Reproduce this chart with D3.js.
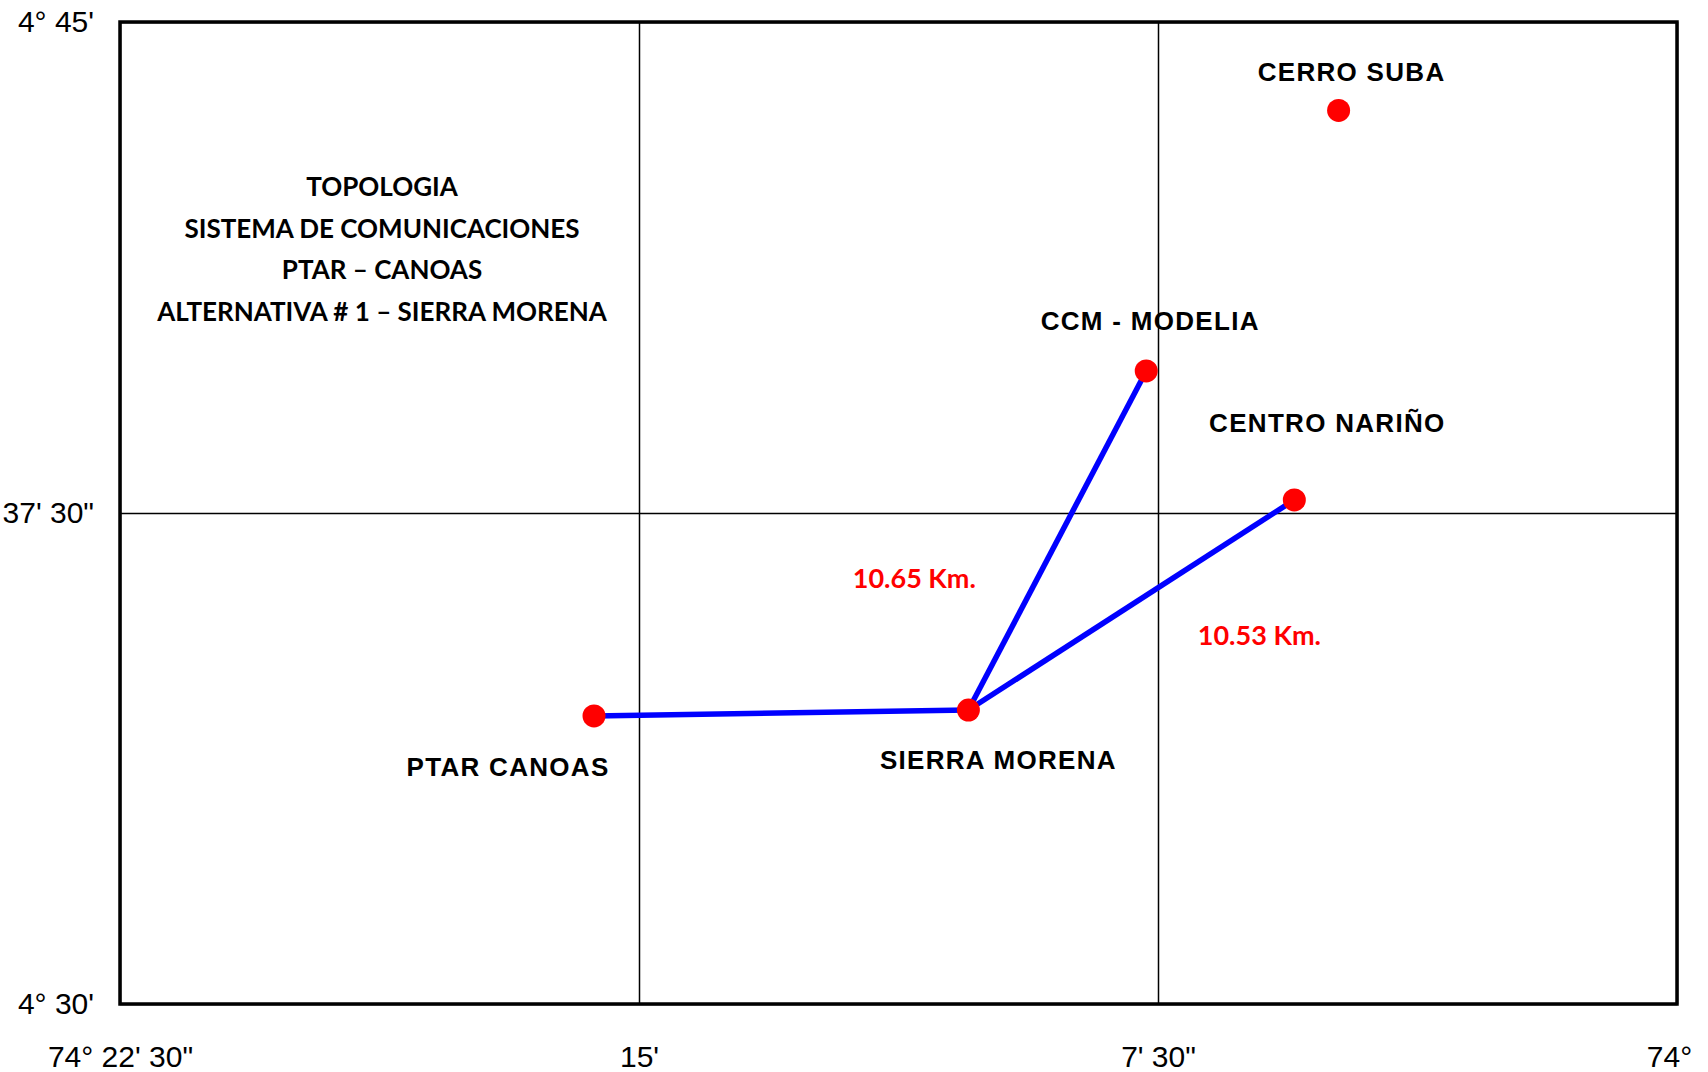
<!DOCTYPE html>
<html lang="es">
<head>
<meta charset="UTF-8">
<title>Topologia</title>
<script src="https://d3js.org/d3.v7.min.js"></script>
<style>
  body { margin: 0; background: #fff; }
  .tick text { font-family: "Liberation Sans Narrow", "Arial Narrow", "Liberation Sans", sans-serif; font-size: 30px; fill: #000; }
</style>
</head>
<body>
<script>
// longitud: minutos al oeste de 74°, latitud: minutos al norte de 4°
var lonTicks = [22.5, 15, 7.5, 0];
var lonLabels = ['74\u00b0  22\' 30"', "15'", '7\' 30"', '74\u00b0'];
var latTicks = [30, 37.5, 45];
var latLabels = ["4\u00b0  30'", '37\' 30"', "4\u00b0  45'"];

var sites = ['PTAR CANOAS', 'SIERRA MORENA', 'CCM - MODELIA', 'CENTRO NARI\u00d1O', 'CERRO SUBA'];
var siteLon = [15.65, 10.24, 7.67, 5.53, 4.89];
var siteLat = [34.40, 34.49, 39.67, 37.70, 43.65];

var links = [[0, 1], [1, 2], [1, 3]];
var linkKm = ['', '10.65 Km.', '10.53 Km.'];

var titleLines = ['TOPOLOGIA', 'SISTEMA DE COMUNICACIONES', 'PTAR \u2013 CANOAS', 'ALTERNATIVA # 1 \u2013 SIERRA MORENA'];

// desplazamientos de las etiquetas (px)
var labelOff = [[-86, 51], [30, 50], [4, -50], [33, -77], [13, -38]];
var kmOff = [[0, 0], [-143, 37], [128, 30]];

var W = 1708, H = 1072;
var m = { left: 120, top: 22, right: 31, bottom: 68 };
var w = W - m.left - m.right, h = H - m.top - m.bottom;

var svg = d3.select('body').append('svg')
    .attr('width', W)
    .attr('height', H);

var g = svg.append('g').attr('transform', 'translate(' + m.left + ',' + m.top + ')');

var x = d3.scaleLinear().domain([22.5, 0]).range([0, w]);
var y = d3.scaleLinear().domain([30, 45]).range([h, 0]);

// ejes con rejilla
var xAxis = g.append('g')
    .attr('transform', 'translate(0,' + h + ')')
    .call(d3.axisBottom(x).tickValues(lonTicks).tickSize(-h).tickPadding(42)
        .tickFormat(function(d, i) { return lonLabels[i]; }));
xAxis.select('.domain').remove();
xAxis.selectAll('line').attr('stroke', '#000').attr('stroke-width', 1.5);
xAxis.selectAll('.tick').filter(function(d) { return d === 22.5; })
    .select('text').attr('dx', 0);
xAxis.selectAll('.tick').filter(function(d) { return d === 0; })
    .select('text').attr('dx', -8);

var yAxis = g.append('g')
    .call(d3.axisLeft(y).tickValues(latTicks).tickSize(-w).tickPadding(26)
        .tickFormat(function(d, i) { return latLabels[i]; }));
yAxis.select('.domain').remove();
yAxis.selectAll('line').attr('stroke', '#000').attr('stroke-width', 1.5);
yAxis.selectAll('text').attr('font-size', 29);

// marco
g.append('rect')
    .attr('width', w)
    .attr('height', h)
    .attr('fill', 'none')
    .attr('stroke', '#000')
    .attr('stroke-width', 3.5);

// titulo
g.append('g').selectAll('text')
    .data(titleLines)
    .enter().append('text')
        .attr('x', 262)
        .attr('y', function(d, i) { return 164 + i * 41.5; })
        .attr('text-anchor', 'middle')
        .attr('dominant-baseline', 'central')
        .attr('font-family', 'Lato, "Open Sans", sans-serif')
        .attr('font-weight', 700)
        .attr('font-size', 26)
        .text(function(d) { return d; });

// enlaces
g.selectAll('line.link')
    .data(links)
    .enter().append('line')
        .attr('class', 'link')
        .attr('x1', function(d) { return x(siteLon[d[0]]); })
        .attr('y1', function(d) { return y(siteLat[d[0]]); })
        .attr('x2', function(d) { return x(siteLon[d[1]]); })
        .attr('y2', function(d) { return y(siteLat[d[1]]); })
        .attr('stroke', '#0000ff')
        .attr('stroke-width', 5.5);

// distancias
g.selectAll('text.km')
    .data(links)
    .enter().append('text')
        .attr('class', 'km')
        .attr('x', function(d, i) { return (x(siteLon[d[0]]) + x(siteLon[d[1]])) / 2 + kmOff[i][0]; })
        .attr('y', function(d, i) { return (y(siteLat[d[0]]) + y(siteLat[d[1]])) / 2 + kmOff[i][1]; })
        .attr('text-anchor', 'middle')
        .attr('dominant-baseline', 'central')
        .attr('font-family', 'Lato, "Open Sans", sans-serif')
        .attr('font-weight', 700)
        .attr('font-size', 27)
        .attr('fill', '#ff0000')
        .text(function(d, i) { return linkKm[i]; });

// puntos
g.selectAll('circle')
    .data(sites)
    .enter().append('circle')
        .attr('cx', function(d, i) { return x(siteLon[i]); })
        .attr('cy', function(d, i) { return y(siteLat[i]); })
        .attr('r', 11.5)
        .attr('fill', '#ff0000');

// nombres
g.selectAll('text.site')
    .data(sites)
    .enter().append('text')
        .attr('class', 'site')
        .attr('x', function(d, i) { return x(siteLon[i]) + labelOff[i][0]; })
        .attr('y', function(d, i) { return y(siteLat[i]) + labelOff[i][1]; })
        .attr('text-anchor', 'middle')
        .attr('dominant-baseline', 'central')
        .attr('font-family', '"Liberation Sans", Arial, sans-serif')
        .attr('font-weight', 700)
        .attr('font-size', 26)
        .attr('letter-spacing', 1.3)
        .text(function(d) { return d; });
</script>
</body>
</html>
